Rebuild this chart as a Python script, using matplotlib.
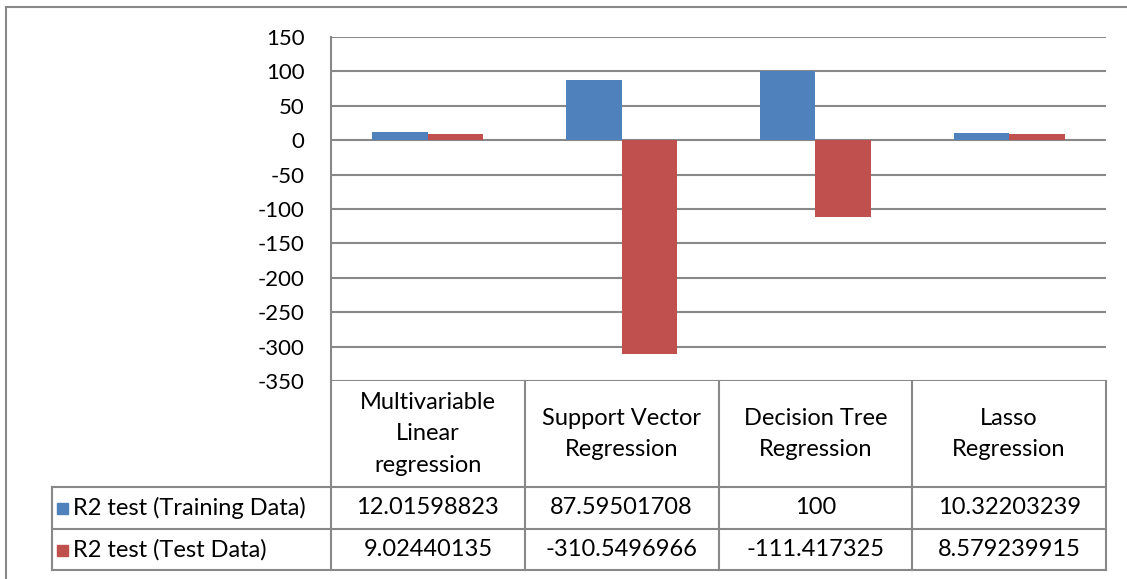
import matplotlib.pyplot as plt
from matplotlib.patches import Rectangle
from matplotlib.lines import Line2D

# Model results
models = ["Multivariable\nLinear\nregression", "Support Vector\nRegression",
          "Decision Tree\nRegression", "Lasso\nRegression"]
series_names = ["R2 test (Training Data)", "R2 test (Test Data)"]
r2_train = [12.01598823, 87.59501708, 100, 10.32203239]
r2_test = [9.02440135, -310.5496966, -111.417325, 8.579239915]
y_ticks = [150, 100, 50, 0, -50, -100, -150, -200, -250, -300, -350]

blue = "#4F81BD"
red = "#C0504D"
grid_col = "#888888"

W, H = 1127, 579
plt.rcParams['font.family'] = ['Lato', 'DejaVu Sans']
fig = plt.figure(figsize=(W / 100, H / 100), dpi=100)


def fx(x):
    return x / W


def fy(y):
    return 1 - y / H


# outer chart border (cut at right and bottom)
fig.patches.append(Rectangle((fx(6), fy(600)), fx(1140), fy(7) - fy(600),
                             transform=fig.transFigure, fill=False,
                             edgecolor=grid_col, lw=1.5))

# plot area
left, right, top, bottom = 331, 1106, 37, 381
ax = fig.add_axes([fx(left), fy(bottom), fx(right - left), fy(top) - fy(bottom)])
w = 0.287
xs = range(len(models))
ax.bar([x - w / 2 for x in xs], r2_train, width=w, color=blue, zorder=3)
ax.bar([x + w / 2 for x in xs], r2_test, width=w, color=red, zorder=3)
ax.set_xlim(-0.5, len(models) - 0.5)
ax.set_ylim(-350, 150)
ax.set_yticks(y_ticks)
ax.set_yticklabels([str(t) for t in y_ticks], fontsize=16)
ax.tick_params(axis='y', length=0, pad=19)
ax.set_xticks([])
ax.yaxis.grid(True, color=grid_col, lw=1.5)
ax.set_axisbelow(True)
for s in ["top", "right", "bottom"]:
    ax.spines[s].set_visible(False)
ax.spines["left"].set_color(grid_col)
ax.spines["left"].set_linewidth(1.5)

# data table below the plot
col_edges = [left + i * (right - left) / len(models) for i in range(len(models) + 1)]
row_edges = [381, 487, 529, 570]
tab_left = 52
tsize = 17


def hline(y, x0, x1):
    fig.lines.append(Line2D([fx(x0), fx(x1)], [fy(y), fy(y)],
                            transform=fig.transFigure, color=grid_col, lw=1.5))


def vline(x, y0, y1):
    fig.lines.append(Line2D([fx(x), fx(x)], [fy(y0), fy(y1)],
                            transform=fig.transFigure, color=grid_col, lw=1.5))


for y in row_edges[1:]:
    hline(y, tab_left, right)
for x in col_edges:
    vline(x, row_edges[0], row_edges[-1])
vline(tab_left, row_edges[1], row_edges[-1])

for i, name in enumerate(models):
    cx = (col_edges[i] + col_edges[i + 1]) / 2
    cy = (row_edges[0] + row_edges[1]) / 2
    fig.text(fx(cx), fy(cy), name, ha='center', va='center', fontsize=tsize,
             linespacing=1.6)

for r, (name, vals, col) in enumerate(zip(series_names, [r2_train, r2_test], [blue, red])):
    cy = (row_edges[r + 1] + row_edges[r + 2]) / 2
    fig.patches.append(Rectangle((fx(57), fy(cy + 6)), fx(11), fy(cy - 5) - fy(cy + 6),
                                 transform=fig.transFigure, color=col))
    fig.text(fx(73), fy(cy), name, ha='left', va='center', fontsize=tsize)
    for i, v in enumerate(vals):
        cx = (col_edges[i] + col_edges[i + 1]) / 2
        fig.text(fx(cx), fy(cy), f"{v:.10g}", ha='center', va='center', fontsize=tsize)

fig.savefig("out.png", dpi=100)
